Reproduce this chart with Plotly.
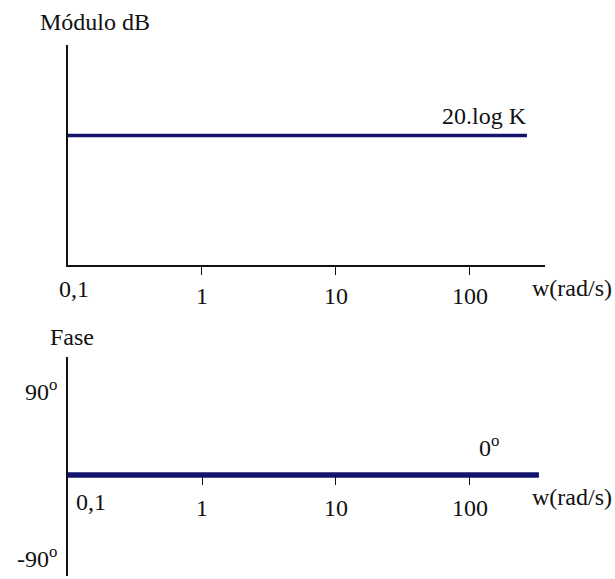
import plotly.graph_objects as go

W, H = 615, 579

# ---- data ----
freq_ticks = [1, 10, 100]
freq_tick_labels = ["1", "10", "100"]
first_tick_label = "0,1"
mag_w = [0.1, 266]
mag_db = [20, 20]          # 20.log K (symbolic level)
phase_w = [0.1, 327]
phase_deg = [0, 0]
phase_ticks = [90, -90]
phase_tick_labels = ["90<sup>o</sup>", "-90<sup>o</sup>"]

NAVY = "#14146e"
INK = "#111111"
FONT = "Liberation Serif"
FS = 24

def px(x):
    return x / W

def py(y):
    return 1 - y / H

fig = go.Figure()
fig.add_trace(go.Scatter(x=mag_w, y=mag_db, mode="lines",
                         line=dict(color=NAVY, width=3.5),
                         xaxis="x", yaxis="y", showlegend=False,
                         hoverinfo="skip"))
fig.add_trace(go.Scatter(x=phase_w, y=phase_deg, mode="lines",
                         line=dict(color=NAVY, width=5.5),
                         xaxis="x2", yaxis="y2", showlegend=False,
                         hoverinfo="skip"))

tickfont = dict(family=FONT, size=FS, color=INK)

fig.update_layout(
    width=W, height=H,
    margin=dict(l=0, r=0, t=0, b=0),
    paper_bgcolor="white", plot_bgcolor="white",
    font=dict(family=FONT, size=FS, color=INK),
    xaxis=dict(type="log", domain=[px(68), px(545)], range=[-1, 2.56],
               anchor="y", showline=True, linecolor=INK, linewidth=1.5,
               showgrid=False, zeroline=False,
               tickvals=freq_ticks, ticktext=freq_tick_labels,
               ticks="outside", ticklen=8, tickwidth=1.2, tickcolor=INK,
               ticklabelstandoff=0, tickfont=tickfont),
    yaxis=dict(domain=[py(265), py(45)], range=[0, 34], anchor="x",
               showline=True, linecolor=INK, linewidth=1.5,
               showgrid=False, zeroline=False, showticklabels=False,
               ticks=""),
    xaxis2=dict(type="log", domain=[px(68), px(539)], range=[-1, 2.515],
                anchor="free", position=py(475),
                showline=False, showgrid=False, zeroline=False,
                tickvals=freq_ticks, ticktext=freq_tick_labels,
                ticks="outside", ticklen=9, tickwidth=1.2, tickcolor=INK,
                ticklabelstandoff=2, tickfont=tickfont),
    yaxis2=dict(domain=[py(576), py(357)], range=[-108.6, 127],
                anchor="x2",
                showline=True, linecolor=INK, linewidth=1.5,
                showgrid=False, zeroline=False,
                tickvals=phase_ticks, ticktext=phase_tick_labels,
                ticks="", ticklabelstandoff=4, tickfont=tickfont),
)

ann = dict(xref="paper", yref="paper", showarrow=False,
           font=dict(family=FONT, size=FS, color=INK))
fig.add_annotation(text="Módulo dB", x=px(38), y=py(22), xanchor="left", yanchor="middle", **ann)
fig.add_annotation(text="20.log K", x=px(529), y=py(116), xanchor="right", yanchor="middle", **ann)
fig.add_annotation(text=first_tick_label, x=px(74), y=py(289), xanchor="center", yanchor="middle", **ann)
fig.add_annotation(text="w(rad/s)", x=px(614), y=py(288), xanchor="right", yanchor="middle", **ann)
fig.add_annotation(text="Fase", x=px(48), y=py(337), xanchor="left", yanchor="middle", **ann)
fig.add_annotation(text="0<sup>o</sup>", x=px(489), y=py(446), xanchor="center", yanchor="middle", **ann)
fig.add_annotation(text=first_tick_label, x=px(91), y=py(502), xanchor="center", yanchor="middle", **ann)
fig.add_annotation(text="w(rad/s)", x=px(614), y=py(497), xanchor="right", yanchor="middle", **ann)

fig.write_html("out.html")
